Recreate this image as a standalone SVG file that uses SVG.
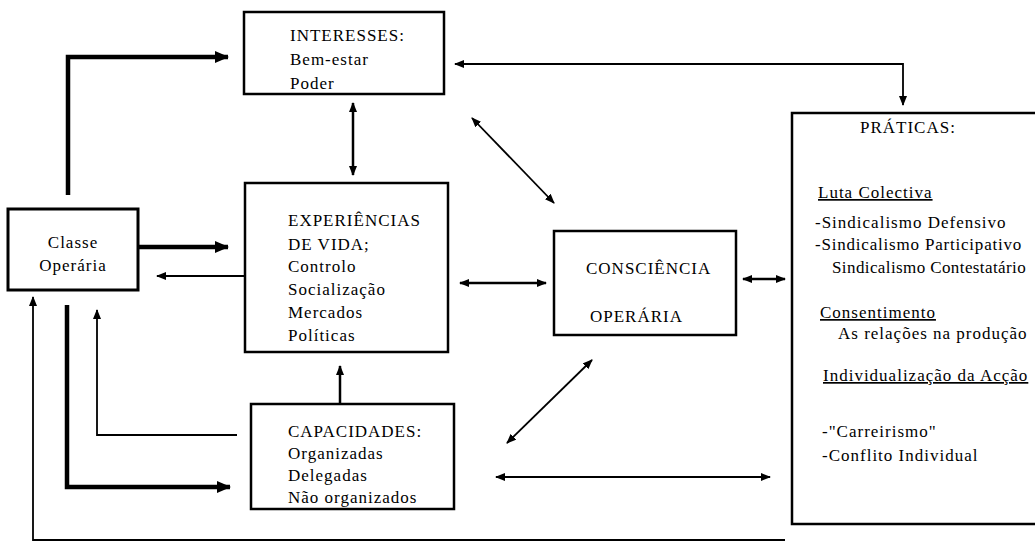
<svg xmlns="http://www.w3.org/2000/svg" width="1035" height="542" viewBox="0 0 1035 542">
<style>
.box{fill:#fff;stroke:#000;stroke-width:2.5}
.t{font-family:"Liberation Serif","Times New Roman",serif;font-size:17px;letter-spacing:1px;fill:#000}
.u{text-decoration:underline}
.c{fill:none;stroke:#000}
.thin{stroke-width:1.8}
.mid{stroke-width:2.5}
.thick{stroke-width:4.5}
</style>
<defs>
<marker id="a" viewBox="0 0 10 8" refX="9" refY="4" markerWidth="10" markerHeight="8" markerUnits="userSpaceOnUse" orient="auto-start-reverse"><path d="M0,0 L10,4 L0,8 Z" fill="#000"/></marker>
<marker id="b" viewBox="0 0 14 12" refX="13" refY="6" markerWidth="14" markerHeight="12" markerUnits="userSpaceOnUse" orient="auto-start-reverse"><path d="M0,0 L14,6 L0,12 Z" fill="#000"/></marker>
</defs>
<rect width="1035" height="542" fill="#fff"/>
<g id="connectors">
<path class="c thick" d="M68 195 V57 H228" marker-end="url(#b)"/>
<path class="c thick" d="M138 247 H228" marker-end="url(#b)"/>
<path class="c thin" d="M244 276 H157" marker-end="url(#a)"/>
<path class="c thin" d="M785 540 H33 V297" marker-end="url(#a)"/>
<path class="c thick" d="M67 305 V487 H230" marker-end="url(#b)"/>
<path class="c thin" d="M237 435 H97 V310" marker-end="url(#a)"/>
<path class="c mid" d="M353 103 V175" marker-start="url(#a)" marker-end="url(#a)"/>
<path class="c mid" d="M340 403 V366" marker-end="url(#a)"/>
<path class="c mid" d="M460 283 H546" marker-start="url(#a)" marker-end="url(#a)"/>
<path class="c thin" d="M472 118 L554 203" marker-start="url(#a)" marker-end="url(#a)"/>
<path class="c thin" d="M592 360 L507 443" marker-start="url(#a)" marker-end="url(#a)"/>
<path class="c thin" d="M496 477 H770" marker-start="url(#a)" marker-end="url(#a)"/>
<path class="c mid" d="M743 279 H785" marker-start="url(#a)" marker-end="url(#a)"/>
<path class="c thin" d="M455 64 H903 V105" marker-start="url(#a)" marker-end="url(#a)"/>
</g>
<g id="interesses">
<rect class="box" x="244" y="12" width="200" height="82"/>
<text class="t" x="290" y="41">INTERESSES:</text>
<text class="t" x="290" y="65">Bem-estar</text>
<text class="t" x="290" y="89">Poder</text>
</g>
<g id="classe">
<rect class="box" x="8" y="209" width="130" height="81" style="stroke-width:3"/>
<text class="t" x="73" y="248" text-anchor="middle">Classe</text>
<text class="t" x="73" y="271" text-anchor="middle">Operária</text>
</g>
<g id="experiencias">
<rect class="box" x="245" y="183" width="203" height="169"/>
<text class="t" x="288" y="226">EXPERIÊNCIAS</text>
<text class="t" x="288" y="250">DE VIDA;</text>
<text class="t" x="288" y="272">Controlo</text>
<text class="t" x="288" y="295">Socialização</text>
<text class="t" x="288" y="318">Mercados</text>
<text class="t" x="288" y="341">Políticas</text>
</g>
<g id="capacidades">
<rect class="box" x="251" y="404" width="203" height="105"/>
<text class="t" x="288" y="437">CAPACIDADES:</text>
<text class="t" x="288" y="459">Organizadas</text>
<text class="t" x="288" y="481">Delegadas</text>
<text class="t" x="288" y="503">Não organizados</text>
</g>
<g id="consciencia">
<rect class="box" x="554" y="231" width="182" height="104"/>
<text class="t" x="586" y="274">CONSCIÊNCIA</text>
<text class="t" x="590" y="322">OPERÁRIA</text>
</g>
<g id="praticas">
<rect class="box" x="792" y="113" width="250" height="411"/>
<text class="t" x="860" y="133">PRÁTICAS:</text>
<text class="t u" x="818" y="198">Luta Colectiva</text>
<text class="t" x="815" y="228">-Sindicalismo Defensivo</text>
<text class="t" x="815" y="250" style="letter-spacing:0.8px">-Sindicalismo Participativo</text>
<text class="t" x="832" y="273" style="letter-spacing:0.4px">Sindicalismo Contestatário</text>
<text class="t u" x="820" y="318">Consentimento</text>
<text class="t" x="838" y="339">As relações na produção</text>
<text class="t u" x="823" y="381">Individualização da Acção</text>
<text class="t" x="822" y="437">-"Carreirismo"</text>
<text class="t" x="822" y="461">-Conflito Individual</text>
</g>
</svg>
